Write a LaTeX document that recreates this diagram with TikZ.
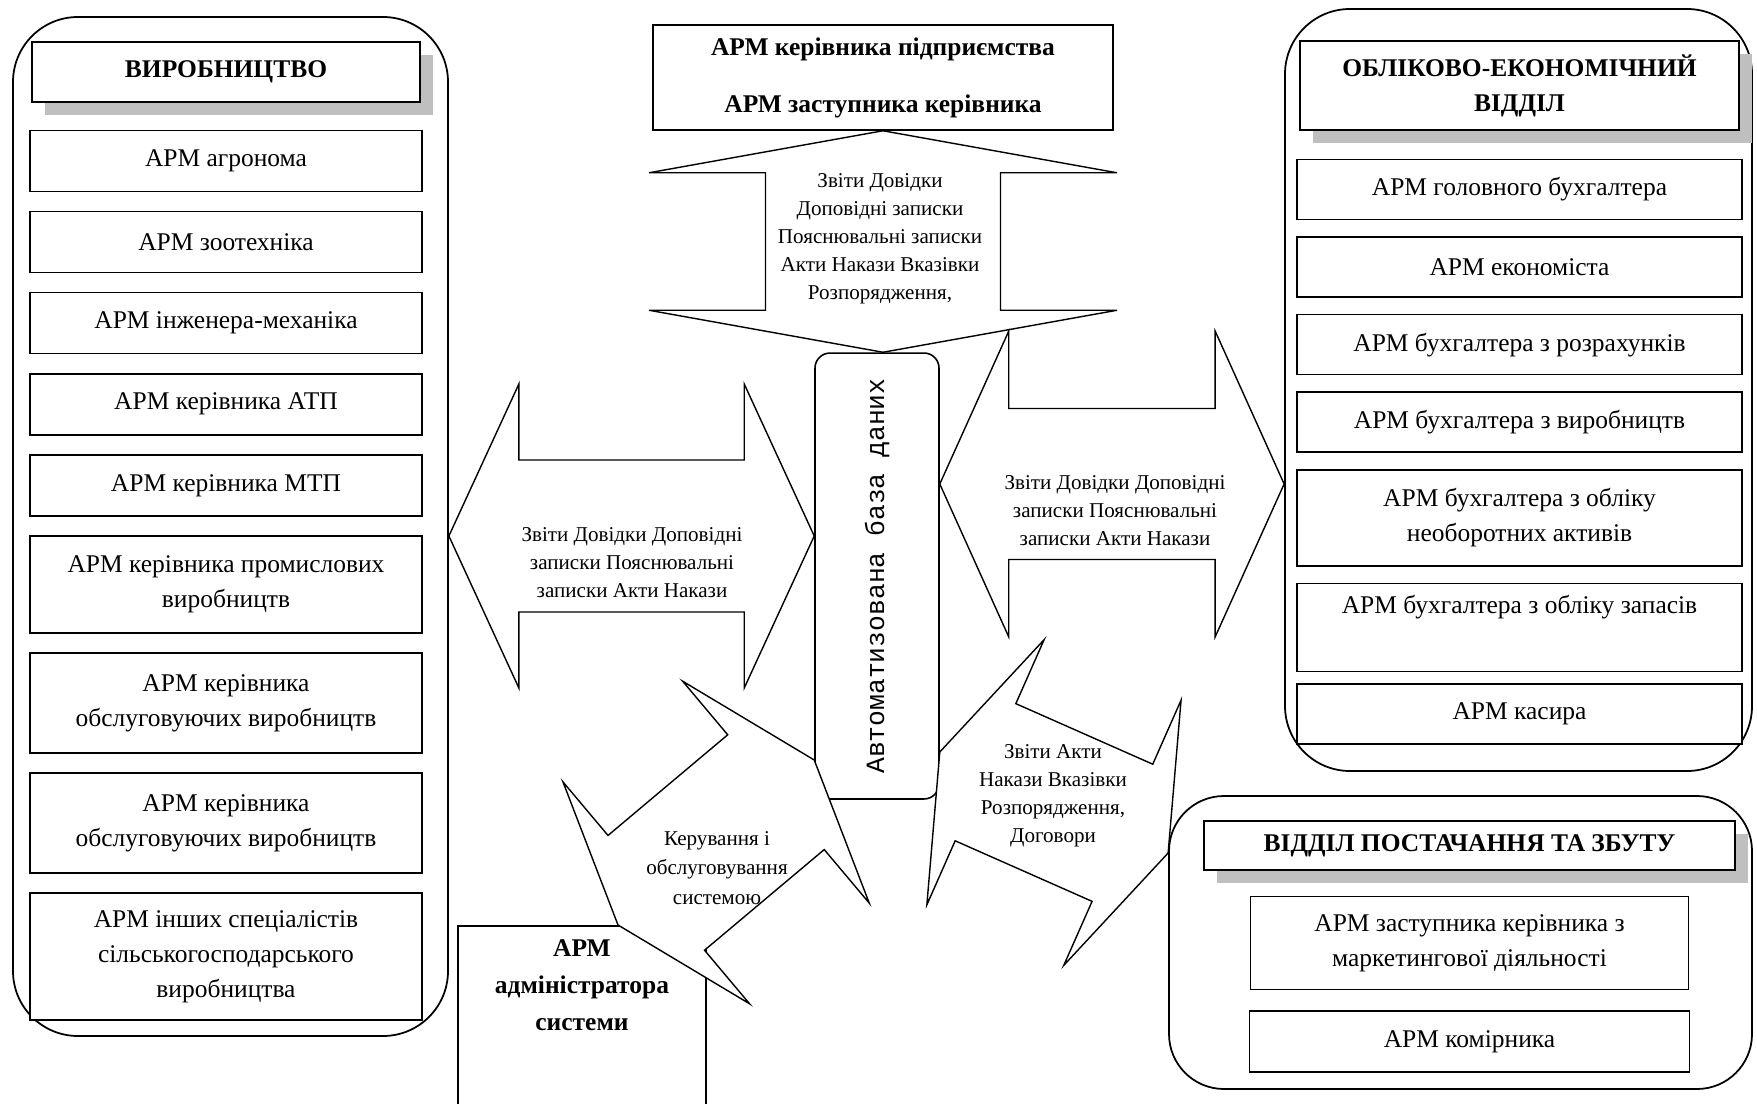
\documentclass[tikz,border=0pt]{standalone}
\usepackage{fontspec}
\setmainfont{Liberation Serif}
\newfontfamily\dbfont{Liberation Mono}
\usetikzlibrary{positioning, calc, fit, shadows}

\tikzset{
  panel/.style={draw, line width=1pt, rounded corners=1.3cm, inner sep=0pt},
  armbox/.style={draw, fill=white, line width=0.9pt, align=center, inner sep=2pt,
    minimum width=7.84cm, minimum height=1.22cm, font=\fontsize{14.5}{20}\selectfont},
  accbox/.style={armbox, minimum width=8.9cm, minimum height=1.2cm},
  headbox/.style={draw, fill=white, line width=0.9pt, align=center,
    font=\bfseries\fontsize{14.5}{20}\selectfont,
    drop shadow={shadow xshift=0.26cm, shadow yshift=-0.26cm, fill=black!25, opacity=1}},
  topbox/.style={draw, fill=white, line width=0.9pt, align=center,
    minimum width=9.2cm, minimum height=2.1cm, font=\bfseries\fontsize{14.5}{20}\selectfont},
  dbbox/.style={draw, fill=white, line width=0.9pt, rounded corners=0.3cm,
    minimum width=2.48cm, minimum height=8.92cm, font=\dbfont\fontsize{15}{18}\selectfont},
  barrow/.style={draw, fill=white, line width=0.8pt, line join=miter},
  doctext/.style={align=center, font=\fontsize{12}{16}\selectfont}
}

% tips #1 #2, head length #3, head half width #4, shaft half width #5
\newcommand\blockarrow[5]{%
  \draw[barrow] (#1)
    -- ($(#1)!#3!(#2)!#4!90:(#2)$)
    -- ($(#1)!#3!(#2)!#5!90:(#2)$)
    -- ($(#2)!#3!(#1)!#5!-90:(#1)$)
    -- ($(#2)!#3!(#1)!#4!-90:(#1)$)
    -- (#2)
    -- ($(#2)!#3!(#1)!#4!90:(#1)$)
    -- ($(#2)!#3!(#1)!#5!90:(#1)$)
    -- ($(#1)!#3!(#2)!#5!-90:(#2)$)
    -- ($(#1)!#3!(#2)!#4!-90:(#2)$)
    -- cycle;}

\begin{document}
\begin{tikzpicture}[x=0.02cm, y=-0.02cm, node distance=0.37cm]
\useasboundingbox (0,0) rectangle (1757,1104);

\node[panel, fit={(13,17) (448,1036)}] (prod) {};
\node[panel, fit={(1285,9) (1752,771)}] (acc) {};
\node[panel, rounded corners=1.1cm, fit={(1169,796) (1752,1089)}] (sup) {};

% production
\node[headbox, minimum width=7.76cm, minimum height=1.2cm] (prodhead) at (226,72) {ВИРОБНИЦТВО};
\node[armbox, below=0.54cm of prodhead] (agr) {АРМ агронома};
\node[armbox, below=of agr] (zoo) {АРМ зоотехніка};
\node[armbox, below=of zoo] (eng) {АРМ інженера-механіка};
\node[armbox, below=of eng] (atp) {АРМ керівника АТП};
\node[armbox, below=of atp] (mtp) {АРМ керівника МТП};
\node[armbox, below=of mtp, minimum height=1.94cm] (ind) {АРМ керівника промислових\\виробництв};
\node[armbox, below=of ind, minimum height=2cm] (srva) {АРМ керівника\\обслуговуючих виробництв};
\node[armbox, below=of srva, minimum height=2cm] (srvb) {АРМ керівника\\обслуговуючих виробництв};
\node[armbox, below=of srvb, minimum height=2.54cm] (oth) {АРМ інших спеціалістів\\сільськогосподарського\\виробництва};

% management and database
\node[topbox] (head) at (883,77.5) {АРМ керівника підприємства\\[0.44cm]АРМ заступника керівника};
\node[dbbox] (db) at (877,576) {\rotatebox{90}{Автоматизована база даних}};

% accounting
\node[headbox, minimum width=8.78cm, minimum height=1.78cm] (acchead) at (1519.5,85.5) {ОБЛІКОВО-ЕКОНОМІЧНИЙ\\ВІДДІЛ};
\node[accbox, below=0.56cm of acchead] (chief) {АРМ головного бухгалтера};
\node[accbox, below=0.32cm of chief] (eco) {АРМ економіста};
\node[accbox, below=0.32cm of eco] (settl) {АРМ бухгалтера з розрахунків};
\node[accbox, below=0.32cm of settl] (prodacc) {АРМ бухгалтера з виробництв};
\node[accbox, below=0.32cm of prodacc, minimum height=1.92cm] (fixed) {АРМ бухгалтера з обліку\\необоротних активів};
\node[accbox, below=0.32cm of fixed, minimum height=1.76cm] (stock) {АРМ бухгалтера з обліку запасів\\\strut};
\node[accbox, below=0.22cm of stock] (cash) {АРМ касира};

% supply
\node[headbox, minimum width=10.62cm, minimum height=0.98cm] (suphead) at (1469.5,845.5) {ВІДДІЛ ПОСТАЧАННЯ ТА ЗБУТУ};
\node[armbox, minimum width=8.76cm, minimum height=1.86cm, below=0.5cm of suphead] (mkt) {АРМ заступника керівника з\\маркетингової діяльності};
\node[armbox, minimum width=8.8cm, below=0.4cm of mkt] (store) {АРМ комірника};

% admin
\node[draw, line width=0.9pt, minimum width=4.96cm, minimum height=4cm, anchor=north] (adm) at (582,925) {};
\node[align=center, font=\bfseries\fontsize{14.5}{21}\selectfont] (admtxt) at (582,985) {АРМ\\адміністратора\\системи};

% document flows
\coordinate (t1) at (head.south);
\coordinate (t2) at (head.south |- db.north);
\coordinate (l1) at (prod.east |- 0,536);
\coordinate (l2) at (db.west |- 0,536);
\coordinate (r1) at (db.east |- 0,484);
\coordinate (r2) at (acc.west |- 0,484);
\coordinate (d1) at (db.west |- 0,760);
\coordinate (d2) at (adm.north -| 618,0);
\coordinate (e1) at (db.east |- 0,752);
\coordinate (e2) at (sup.west |- 0,853);

\blockarrow{t1}{t2}{0.84cm}{4.68cm}{2.35cm}
\blockarrow{l1}{l2}{1.4cm}{3.04cm}{1.52cm}
\blockarrow{r1}{r2}{1.38cm}{3.06cm}{1.51cm}
\blockarrow{d1}{d2}{1cm}{2.9cm}{1.5cm}
\blockarrow{e1}{e2}{1cm}{2.9cm}{1.5cm}

\node[doctext] (ttxt) at (880,239) {Звіти Довідки\\Доповідні записки\\Пояснювальні записки\\Акти Накази Вказівки\\Розпорядження,};
\node[doctext] (ltxt) at (632,563) {Звіти Довідки Доповідні\\записки Пояснювальні\\записки Акти Накази};
\node[doctext] (rtxt) at (1115,511) {Звіти Довідки Доповідні\\записки Пояснювальні\\записки Акти Накази};
\node[doctext, font=\fontsize{12}{17}\selectfont] (dtxt) at (717,868) {Керування і\\обслуговування\\системою};
\node[doctext] (etxt) at (1053,796) {Звіти Акти\\Накази Вказівки\\Розпорядження,\\Договори};
\end{tikzpicture}
\end{document}
